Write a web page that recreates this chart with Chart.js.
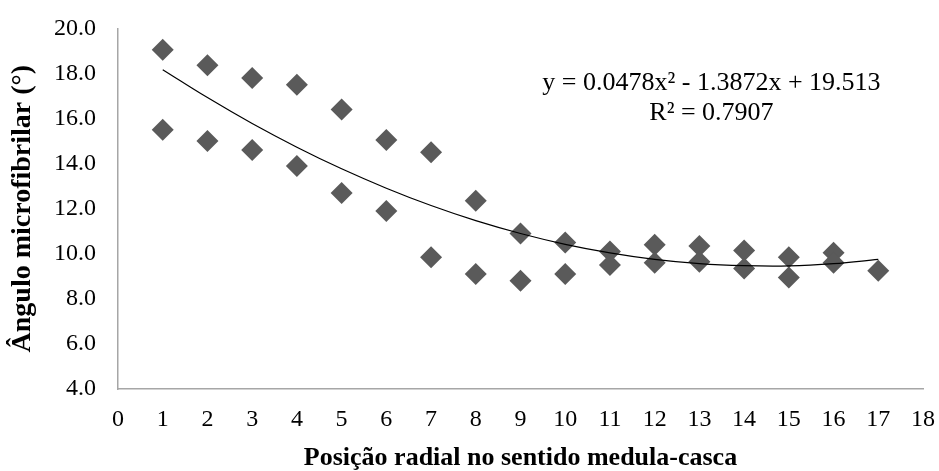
<!DOCTYPE html>
<html>
<head>
<meta charset="utf-8">
<script src="https://cdn.jsdelivr.net/npm/chart.js@4"></script>
<style>
html,body{margin:0;padding:0;background:#fff;}
#wrap{width:939px;height:471px;}
</style>
</head>
<body>
<div id="wrap"><canvas id="c" width="939" height="471"></canvas></div>
<script>
// Radial position (medulla to bark)
const positions = [1,2,3,4,5,6,7,8,9,10,11,12,13,14,15,16,17];
// Microfibril angle, upper and lower observations per position (degrees)
const angleUpper = [19.05,18.37,17.8,17.5,16.4,15.05,14.5,12.35,10.9,10.5,10.1,10.4,10.35,10.15,9.85,10.05,9.25];
const angleLower = [15.5,15.0,14.6,13.9,12.7,11.9,9.85,9.1,8.8,9.1,9.5,9.6,9.65,9.35,8.95,9.6,null];
// Polynomial trend line
const trendValues = [18.17,16.93,15.78,14.73,13.77,12.91,12.14,11.47,10.90,10.42,10.04,9.75,9.56,9.47,9.46,9.56,9.75];
const yTicks = [4,6,8,10,12,14,16,18,20];
const xTicks = [0,1,2,3,4,5,6,7,8,9,10,11,12,13,14,15,16,17,18];
const equationLines = ["y = 0.0478x\u00B2 - 1.3872x + 19.513", "R\u00B2 = 0.7907"];

const pts = [];
positions.forEach((p,i)=>{
  if (angleUpper[i] != null) pts.push({x:p, y:angleUpper[i]});
  if (angleLower[i] != null) pts.push({x:p, y:angleLower[i]});
});
const trend = positions.map((p,i)=>({x:p, y:trendValues[i]}));

const FONT = "'Liberation Serif','Times New Roman',serif";
const axisColor = '#a6a6a6';

const eqPlugin = {
  id:'eq',
  afterDatasetsDraw(chart){
    const ctx = chart.ctx, xs = chart.scales.x, ys = chart.scales.y;
    ctx.save();
    ctx.fillStyle = '#000';
    ctx.font = "26px " + FONT;
    ctx.textAlign = 'center';
    ctx.textBaseline = 'middle';
    ctx.fillText(equationLines[0], xs.getPixelForValue(13.27), ys.getPixelForValue(17.58));
    ctx.fillText(equationLines[1], xs.getPixelForValue(13.27), ys.getPixelForValue(16.26));
    ctx.restore();
  }
};

new Chart(document.getElementById('c'), {
  type:'scatter',
  data:{
    datasets:[
      {
        type:'line',
        data:trend,
        borderColor:'#000',
        borderWidth:1.2,
        pointRadius:0,
        tension:0.4,
        fill:false,
        order:0
      },
      {
        data:pts,
        pointStyle:'rectRot',
        pointRadius:11,
        pointBackgroundColor:'#5a5a5a',
        pointBorderColor:'#5a5a5a',
        pointBorderWidth:0,
        order:1
      }
    ]
  },
  options:{
    responsive:false,
    animation:false,
    layout:{padding:{left:0,right:16,top:25,bottom:0}},
    plugins:{legend:{display:false},tooltip:{enabled:false}},
    scales:{
      x:{
        type:'linear',
        min:0,max:18,
        afterBuildTicks(s){ s.ticks = xTicks.map(v=>({value:v})); },
        afterFit(s){ s.height = 82; s.paddingRight = 4; s.paddingLeft = 4; },
        grid:{display:false, drawTicks:true, tickLength:8, tickColor:axisColor},
        border:{color:axisColor, width:1.5},
        ticks:{color:'#000', font:{family:FONT,size:24}, padding:8, autoSkip:false, maxRotation:0},
        title:{display:true, text:'Posição radial no sentido medula-casca', color:'#000', font:{family:FONT,size:26,weight:'bold',lineHeight:1}, padding:{top:0,bottom:0}}
      },
      y:{
        type:'linear',
        min:4,max:20,
        afterBuildTicks(s){ s.ticks = yTicks.map(v=>({value:v})); },
        afterFit(s){ s.width = 118; },
        grid:{display:false, drawTicks:true, tickLength:8, tickColor:axisColor},
        border:{color:axisColor, width:1.5},
        ticks:{color:'#000', font:{family:FONT,size:24}, padding:14, callback:v=>v.toFixed(1)},
        title:{display:true, text:'Ângulo microfibrilar (°)', color:'#000', font:{family:FONT,size:28,weight:'bold',lineHeight:1}, padding:{top:9,bottom:0}}
      }
    }
  },
  plugins:[eqPlugin]
});
</script>
</body>
</html>
